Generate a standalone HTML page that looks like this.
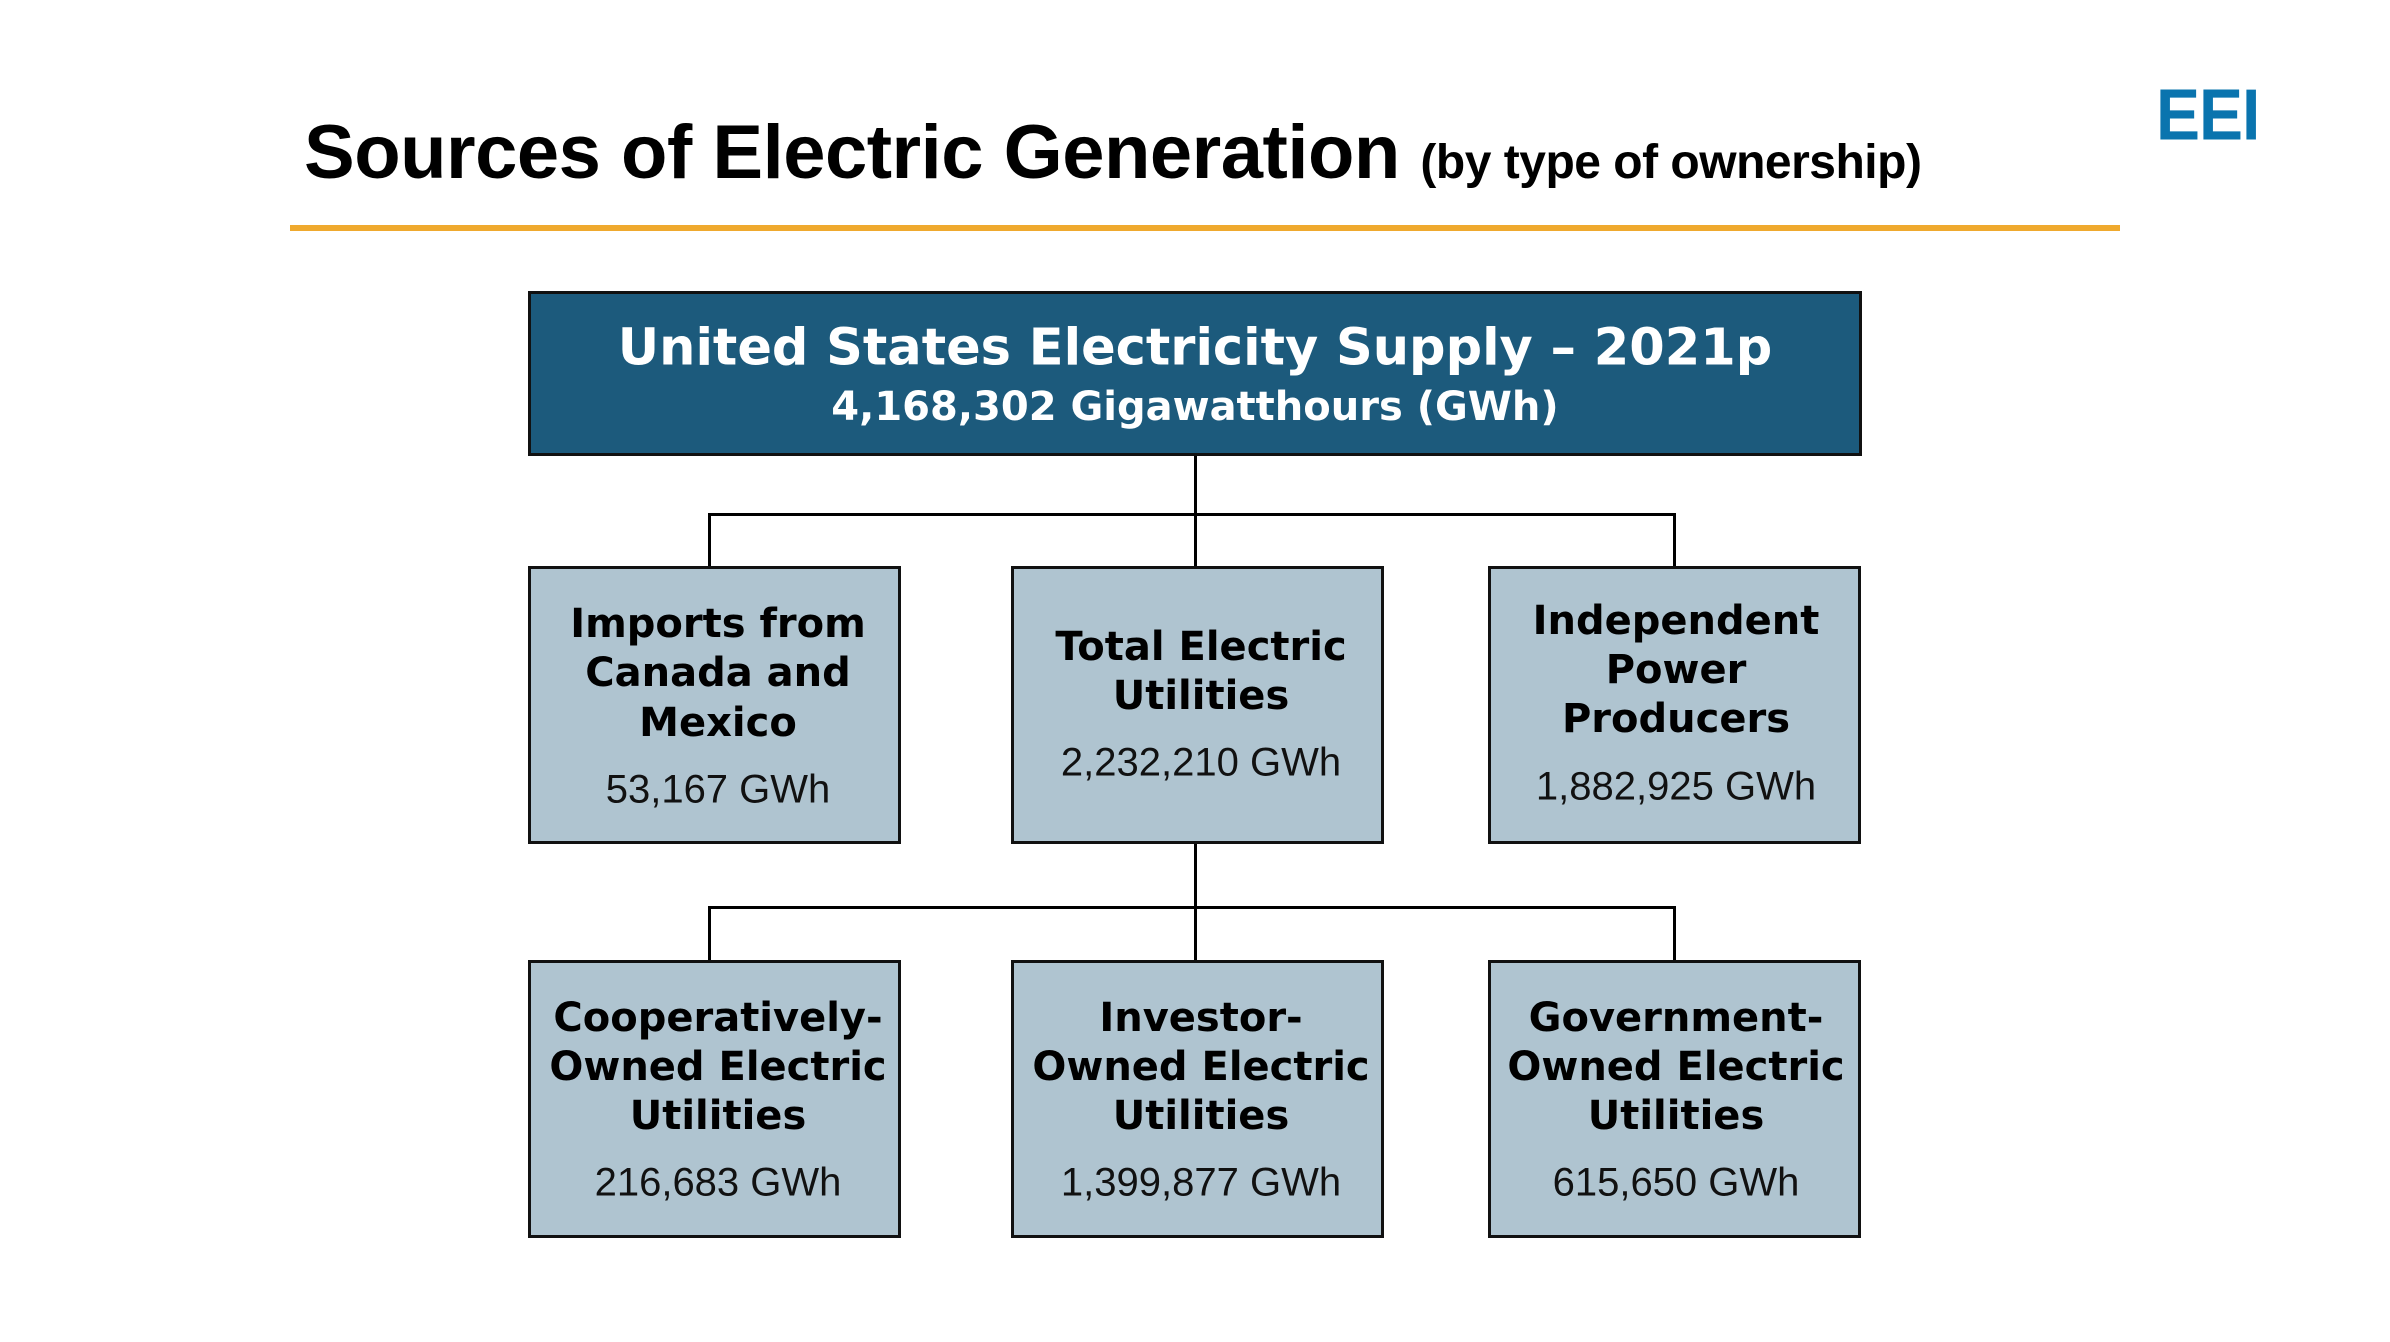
<!DOCTYPE html>
<html><head><meta charset="utf-8"><style>
*{margin:0;padding:0;box-sizing:border-box}
body{width:2390px;height:1342px;background:#fff;position:relative;overflow:hidden;font-family:"Liberation Sans",sans-serif}
.a{position:absolute}
.t{position:absolute;white-space:nowrap;text-align:center;transform:translate(-50%,-50%)}
.box{position:absolute;background:#AFC4D0;border:3px solid #111}
.lb{font-family:"DejaVu Sans",sans-serif;font-weight:bold;font-size:40px;color:#000}
.nm{font-size:40px;color:#111}
.ln{position:absolute;background:#000}
</style></head><body>
<div class="a" style="left:304px;top:109px;font-weight:bold;font-size:76px;color:#000;white-space:nowrap;letter-spacing:-0.5px">Sources of Electric Generation <span style="font-size:48px">(by type of ownership)</span></div>
<div class="a" style="left:2156px;top:76px;font-weight:bold;font-size:66px;color:#0A74AE;letter-spacing:-1px;transform:scaleY(1.1)">EEI</div>
<div class="a" style="left:290px;top:225px;width:1830px;height:6px;background:#EFA92E"></div>

<div class="a" style="left:528px;top:291px;width:1334px;height:165px;background:#1C5A7C;border:3px solid #111"></div>
<div class="t" style="left:1195px;top:348px;font-family:'DejaVu Sans',sans-serif;font-weight:bold;font-size:51px;color:#fff">United States Electricity Supply – 2021p</div>
<div class="t" style="left:1195px;top:407px;font-family:'DejaVu Sans',sans-serif;font-weight:bold;font-size:40px;color:#fff">4,168,302 Gigawatthours (GWh)</div>

<div class="ln" style="left:1194px;top:456px;width:3px;height:110px"></div>
<div class="ln" style="left:708px;top:513px;width:968px;height:3px"></div>
<div class="ln" style="left:708px;top:513px;width:3px;height:53px"></div>
<div class="ln" style="left:1673px;top:513px;width:3px;height:53px"></div>
<div class="ln" style="left:1194px;top:842px;width:3px;height:119px"></div>
<div class="ln" style="left:708px;top:906px;width:968px;height:3px"></div>
<div class="ln" style="left:708px;top:906px;width:3px;height:55px"></div>
<div class="ln" style="left:1673px;top:906px;width:3px;height:55px"></div>

<div class="box" style="left:528px;top:566px;width:373px;height:278px"></div>
<div class="box" style="left:1011px;top:566px;width:373px;height:278px"></div>
<div class="box" style="left:1488px;top:566px;width:373px;height:278px"></div>
<div class="box" style="left:528px;top:960px;width:373px;height:278px"></div>
<div class="box" style="left:1011px;top:960px;width:373px;height:278px"></div>
<div class="box" style="left:1488px;top:960px;width:373px;height:278px"></div>

<div class="t lb" style="left:718px;top:624px">Imports from</div>
<div class="t lb" style="left:718px;top:673px">Canada and</div>
<div class="t lb" style="left:718px;top:723px">Mexico</div>
<div class="t nm" style="left:718px;top:790px">53,167 GWh</div>

<div class="t lb" style="left:1201px;top:647px">Total Electric</div>
<div class="t lb" style="left:1201px;top:696px">Utilities</div>
<div class="t nm" style="left:1201px;top:763px">2,232,210 GWh</div>

<div class="t lb" style="left:1676px;top:621px">Independent</div>
<div class="t lb" style="left:1676px;top:670px">Power</div>
<div class="t lb" style="left:1676px;top:719px">Producers</div>
<div class="t nm" style="left:1676px;top:787px">1,882,925 GWh</div>

<div class="t lb" style="left:718px;top:1018px">Cooperatively-</div>
<div class="t lb" style="left:718px;top:1067px">Owned Electric</div>
<div class="t lb" style="left:718px;top:1116px">Utilities</div>
<div class="t nm" style="left:718px;top:1183px">216,683 GWh</div>

<div class="t lb" style="left:1201px;top:1018px">Investor-</div>
<div class="t lb" style="left:1201px;top:1067px">Owned Electric</div>
<div class="t lb" style="left:1201px;top:1116px">Utilities</div>
<div class="t nm" style="left:1201px;top:1183px">1,399,877 GWh</div>

<div class="t lb" style="left:1676px;top:1018px">Government-</div>
<div class="t lb" style="left:1676px;top:1067px">Owned Electric</div>
<div class="t lb" style="left:1676px;top:1116px">Utilities</div>
<div class="t nm" style="left:1676px;top:1183px">615,650 GWh</div>
</body></html>
